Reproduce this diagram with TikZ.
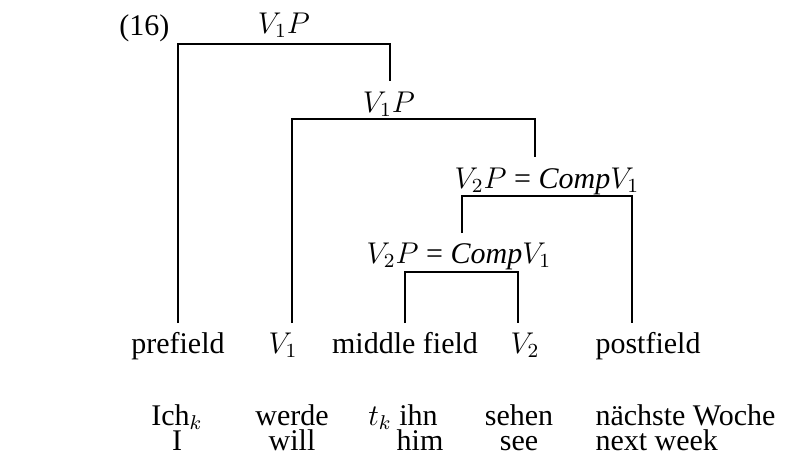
\documentclass[tikz,border=0pt]{standalone}
\usepackage{fontspec}
\setmainfont{Liberation Serif}
\begin{document}
\begin{tikzpicture}[x=0.4pt,y=-0.4pt,
  lbl/.style={anchor=base,inner sep=0pt,font=\fontsize{12}{14}\selectfont},
  lblw/.style={anchor=base west,inner sep=0pt,font=\fontsize{12}{14}\selectfont},
  br/.style={line width=0.45pt}]
\useasboundingbox (0,0) rectangle (788,460);
% example number
\node[lblw] (num) at (119,36) {(16)};
% category labels
\node[lbl] (l1) at (284,33) {$V_1P$};
\node[lbl] (l2) at (389,112) {$V_1P$};
\node[lbl] (l3) at (547,188) {$V_2P$ = \textit{Comp}$V_1$};
\node[lbl] (l4) at (459,263) {$V_2P$ = \textit{Comp}$V_1$};
% field labels
\node[lbl] (pre) at (178,353) {prefield};
\node[lbl] (v1) at (283,353) {$V_1$};
\node[lbl] (mid) at (405,353) {middle field};
\node[lbl] (v2) at (525,353) {$V_2$};
\node[lblw] (post) at (595,353) {postfield};
% glosses
\node[lbl] (g1) at (177,425) {Ich$_k$};
\node[lbl] (g2) at (292,425) {werde};
\node[lbl] (g3) at (403,425) {$t_k$ ihn};
\node[lbl] (g4) at (519,425) {sehen};
\node[lblw] (g5) at (595,425) {nächste Woche};
\node[lbl] (e1) at (177,450) {I};
\node[lbl] (e2) at (292,450) {will};
\node[lbl] (e3) at (420,450) {him};
\node[lbl] (e4) at (519,450) {see};
\node[lblw] (e5) at (595,450) {next week};
% tree coordinates
\coordinate (a1) at (178,44); \coordinate (b1) at (390,44);
\coordinate (a2) at (292,119); \coordinate (b2) at (535,119);
\coordinate (a3) at (462,196); \coordinate (b3) at (632,196);
\coordinate (a4) at (405,272); \coordinate (b4) at (518,272);
\coordinate (t2) at (390,81); \coordinate (t3) at (535,157); \coordinate (t4) at (462,233);
\coordinate (f1) at (178,323); \coordinate (f2) at (292,323);
\coordinate (f3) at (405,323); \coordinate (f4) at (518,323); \coordinate (f5) at (632,323);
\draw[br] (f1) -- (a1) -- (b1) -- (t2);
\draw[br] (f2) -- (a2) -- (b2) -- (t3);
\draw[br] (t4) -- (a3) -- (b3) -- (f5);
\draw[br] (f3) -- (a4) -- (b4) -- (f4);
\end{tikzpicture}
\end{document}
